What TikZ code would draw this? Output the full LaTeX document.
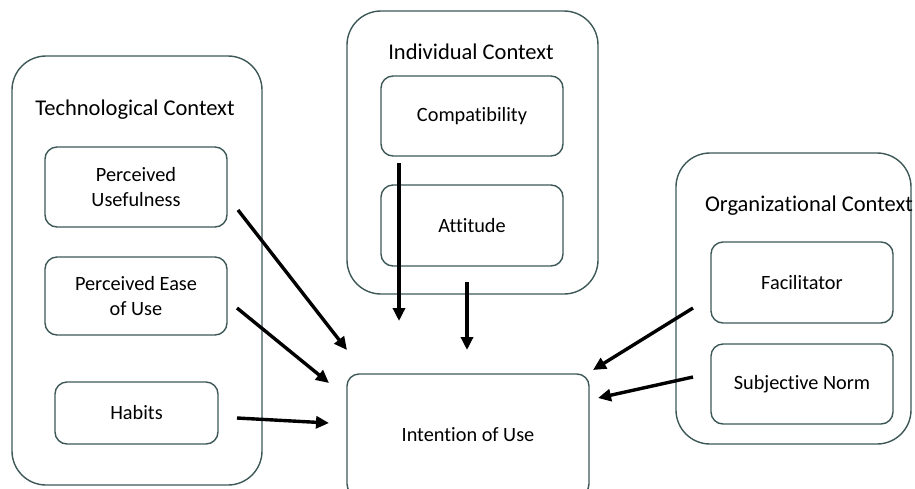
\documentclass[tikz,border=0pt]{standalone}
\usepackage{fontspec}
\setmainfont{Carlito}[Ligatures=NoCommon]
\usetikzlibrary{arrows.meta}
\definecolor{boxline}{RGB}{62,88,88}
\begin{document}
\begin{tikzpicture}[x=1pt,y=-1pt,
  ctx/.style={draw=boxline, line width=1.4pt, rounded corners=34pt, inner sep=0pt},
  item/.style={draw=boxline, line width=1.4pt, rounded corners=12pt, inner sep=0pt, align=center, font=\fontsize{20.3}{25}\selectfont},
  ttl/.style={font=\fontsize{22.5}{26}\selectfont, inner sep=0pt},
  arr/.style={line width=3.4pt, -{Triangle[length=13pt,width=12pt]}}]
\useasboundingbox (0,0) rectangle (915,488);
\clip (0,0) rectangle (915,488);
% context boxes
\node[ctx, minimum width=250pt, minimum height=429pt] (tech) at (137,270.5) {};
\node[ctx, minimum width=251pt, minimum height=283pt] (indiv) at (472.5,152.5) {};
\node[ctx, minimum width=235pt, minimum height=291pt] (org) at (793.5,298.5) {};
\node[ttl] (techT) at (135,110) {Technological Context};
\node[ttl] (indivT) at (471,52) {Individual Context};
\node[ttl] (orgT) at (809,206) {Organizational Context};
% items
\node[item, minimum width=182pt, minimum height=80pt] (pu) at (136,187) {Perceived\\Usefulness};
\node[item, minimum width=182pt, minimum height=78pt] (peu) at (136,296) {Perceived Ease\\of Use};
\node[item, minimum width=163pt, minimum height=62pt] (hab) at (136.5,413) {Habits};
\node[item, minimum width=182pt, minimum height=80pt] (comp) at (472,116) {Compatibility};
\node[item, minimum width=182pt, minimum height=81pt] (att) at (472,225.5) {Attitude};
\node[item, minimum width=182pt, minimum height=81pt] (fac) at (802,282.5) {Facilitator};
\node[item, minimum width=182pt, minimum height=80pt] (sn) at (802,384) {Subjective Norm};
\node[item, minimum width=242pt, minimum height=122pt] (iou) at (468,435) {Intention of Use};
% arrow end points
\coordinate (puS) at (238,210); \coordinate (puE) at (347,350);
\coordinate (peuS) at (237,308); \coordinate (peuE) at (329,383);
\coordinate (habS) at (237,418); \coordinate (habE) at (329,423);
\coordinate (compS) at (399,163); \coordinate (compE) at (399,321);
\coordinate (attS) at (467,282); \coordinate (attE) at (467,350);
\coordinate (facS) at (693,308); \coordinate (facE) at (593,370);
\coordinate (snS) at (693,377); \coordinate (snE) at (598,398);
\draw[arr] (puS) -- (puE);
\draw[arr] (peuS) -- (peuE);
\draw[arr] (habS) -- (habE);
\draw[arr] (compS) -- (compE);
\draw[arr] (attS) -- (attE);
\draw[arr] (facS) -- (facE);
\draw[arr] (snS) -- (snE);
\end{tikzpicture}
\end{document}
